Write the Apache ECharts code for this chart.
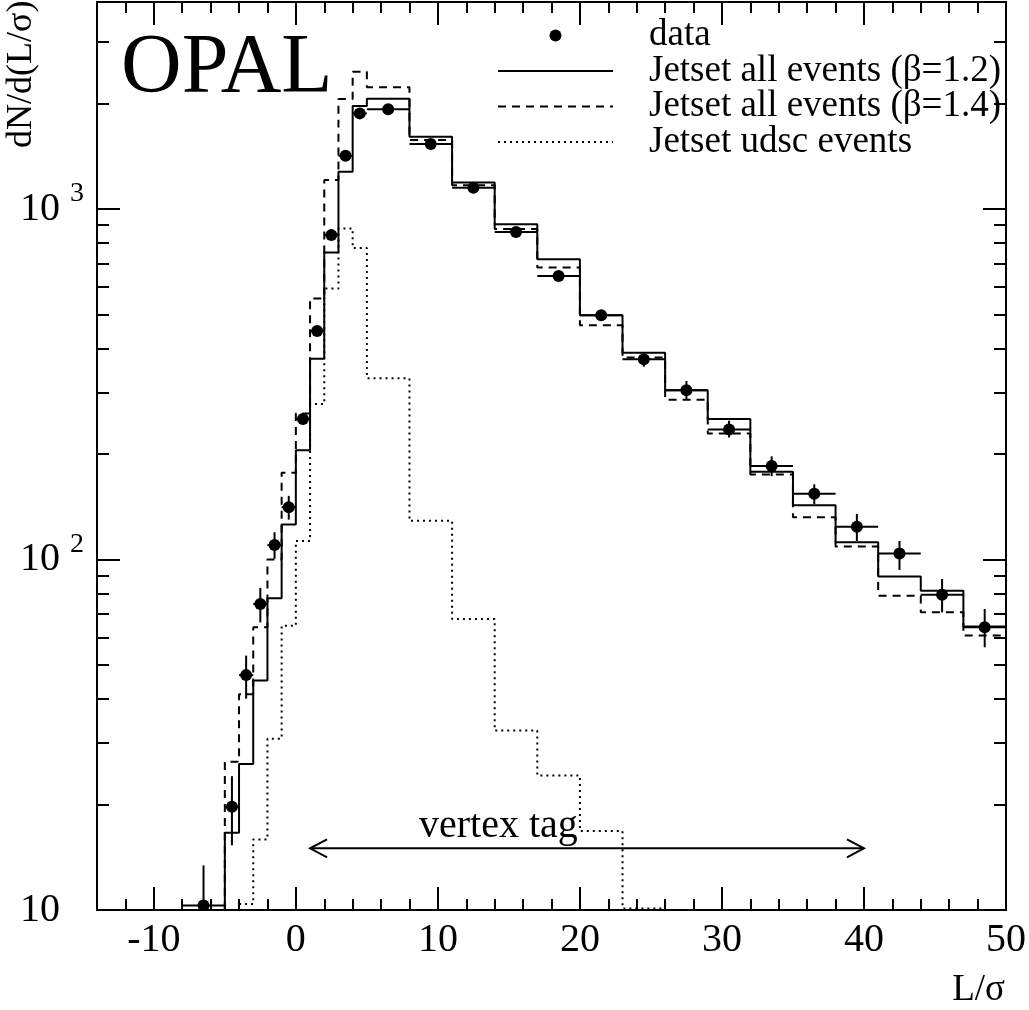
<!DOCTYPE html>
<html>
<head>
<meta charset="utf-8">
<script src="https://cdn.jsdelivr.net/npm/echarts@6.0.0/dist/echarts.min.js"></script>
<style>
html, body { margin: 0; padding: 0; background: #fff; }
#main { width: 1029px; height: 1010px; }
</style>
</head>
<body>
<div id="main"></div>
<script>
var FONT = 'Liberation Serif, Times New Roman, serif';

// histogram bin edges (L/sigma)
var histEdges = [-5, -4, -3, -2, -1, 0, 1, 2, 3, 4, 5, 8, 11, 14, 17, 20, 23, 26, 29, 32, 35, 38, 41, 44, 47, 50];
var jetset12 = [16.6, 26.1, 45.2, 77.5, 126, 205, 374, 752, 1279, 1968, 2066, 1609, 1192, 906, 720, 498, 389, 304, 252, 178, 143, 112, 89.4, 81.5, 64.4];
var jetset14 = [26.5, 41.3, 64.1, 100, 177, 261, 556, 1210, 2062, 2467, 2228, 1574, 1170, 877, 681, 466, 377, 286, 229, 175, 132, 109, 78.9, 70.7, 60.7];
var udsc = [null, 10.4, 15.9, 30.8, 64.7, 113, 278, 594, 881, 774, 329, 129, 67.7, 32.5, 24.2, 16.8, 10.1, null, null, null, null, null, null, null, null];

// data points
var dataX = [-6.5, -4.5, -3.5, -2.5, -1.5, -0.5, 0.5, 1.5, 2.5, 3.5, 4.5, 6.5, 9.5, 12.5, 15.5, 18.5, 21.5, 24.5, 27.5, 30.5, 33.5, 36.5, 39.5, 42.5, 45.5, 48.5];
var dataHalfBin = [1.5, 0.5, 0.5, 0.5, 0.5, 0.5, 0.5, 0.5, 0.5, 0.5, 0.5, 1.5, 1.5, 1.5, 1.5, 1.5, 1.5, 1.5, 1.5, 1.5, 1.5, 1.5, 1.5, 1.5, 1.5, 1.5];
var dataY = [10.3, 19.7, 46.8, 74.7, 110, 141, 252, 449, 843, 1420, 1876, 1928, 1534, 1150, 861, 644, 498, 373, 304, 235, 185, 154, 124, 104, 79.3, 64.1];
var dataLo = [7.5, 15.3, 40.1, 66.2, 100.5, 130, 243, 435, 825, 1395, 1845, 1905, 1515, 1133, 846, 631, 481, 355, 286, 223, 173, 144, 113, 93.4, 70.7, 56.2];
var dataHi = [13.4, 24.1, 53.2, 83, 119.7, 152, 262, 463, 861, 1445, 1905, 1950, 1555, 1167, 876, 657, 515, 391, 323, 249, 197, 164, 135, 113, 88, 72.3];

// vertex tag arrow
var tagRange = [1, 40];
var tagLevel = 15;

// axis ticks
var xMin = -14, xMax = 50;
var yMin = 10, yMax = 3900;
var xMajor = [-10, 0, 10, 20, 30, 40, 50];
var xMinor = [];
for (var t = xMin; t <= xMax; t += 2) {
    if (t % 10 !== 0) xMinor.push(t);
}
var yMajor = [10, 100, 1000];
var yMinor = [20, 30, 40, 50, 60, 70, 80, 90, 200, 300, 400, 500, 600, 700, 800, 900, 2000, 3000];

var chart = echarts.init(document.getElementById('main'));

function stepLine(vals) {
    var pts = [], last = -1;
    for (var i = 0; i < vals.length; i++) {
        if (vals[i] == null) continue;
        if (!pts.length) pts.push([histEdges[i], yMin]);
        pts.push([histEdges[i], vals[i]]);
        last = i;
    }
    pts.push([histEdges[last + 1], vals[last]]);
    return pts;
}

var black = { color: '#000', width: 2 };

function xAx(pos, ticks, len, line, labels) {
    return {
        type: 'value', min: xMin, max: xMax, position: pos,
        axisLine: { show: line, onZero: false, lineStyle: black },
        axisTick: { show: true, inside: true, length: len, customValues: ticks, lineStyle: black },
        axisLabel: labels ? {
            customValues: xMajor, margin: 10, color: '#000',
            fontFamily: FONT, fontSize: 40
        } : { show: false },
        splitLine: { show: false }
    };
}

function yAx(pos, ticks, len, line, labels) {
    return {
        type: 'log', logBase: 10, min: yMin, max: yMax, position: pos,
        axisLine: { show: line, onZero: false, lineStyle: black },
        axisTick: { show: true, inside: true, length: len, customValues: ticks, lineStyle: black },
        axisLabel: labels ? {
            customValues: yMajor, align: 'left', margin: 77, color: '#000',
            formatter: function (v) {
                var e = Math.round(Math.log10(v));
                return e === 1 ? '{b|10}' : '{b|10 }{e|' + e + '}';
            },
            rich: {
                b: { fontFamily: FONT, fontSize: 40, color: '#000', padding: [9, 0, 9, 0] },
                e: { fontFamily: FONT, fontSize: 28, color: '#000', verticalAlign: 'top' }
            }
        } : { show: false },
        splitLine: { show: false }
    };
}

function renderPoint(params, api) {
    var x = api.value(0), y = api.value(1), h = api.value(4);
    var c = api.coord([x, y]);
    var l = api.coord([x - h, y]);
    var r = api.coord([x + h, y]);
    var lo = api.coord([x, api.value(2)]);
    var hi = api.coord([x, api.value(3)]);
    var st = { stroke: '#000', lineWidth: 2 };
    return {
        type: 'group',
        children: [
            { type: 'line', shape: { x1: l[0], y1: c[1], x2: r[0], y2: c[1] }, style: st },
            { type: 'line', shape: { x1: c[0], y1: lo[1], x2: c[0], y2: hi[1] }, style: st },
            { type: 'circle', shape: { cx: c[0], cy: c[1], r: 6 }, style: { fill: '#000' } }
        ]
    };
}

function renderTag(params, api) {
    var a = api.coord([api.value(0), api.value(2)]);
    var b = api.coord([api.value(1), api.value(2)]);
    var st = { stroke: '#000', lineWidth: 2, fill: null };
    return {
        type: 'group',
        children: [
            { type: 'line', shape: { x1: a[0], y1: a[1], x2: b[0], y2: b[1] }, style: st },
            { type: 'polyline', shape: { points: [[a[0] + 17, a[1] - 9], a, [a[0] + 17, a[1] + 9]] }, style: st },
            { type: 'polyline', shape: { points: [[b[0] - 17, b[1] - 9], b, [b[0] - 17, b[1] + 9]] }, style: st },
            {
                type: 'text', x: a[0] + (b[0] - a[0]) * 0.34, y: a[1] - 22,
                style: { text: 'vertex tag', font: '40px ' + FONT, fill: '#000', align: 'center', verticalAlign: 'middle' }
            }
        ]
    };
}

var noDot = { opacity: 0 };

var option = {
    animation: false,
    backgroundColor: '#fff',
    textStyle: { fontFamily: FONT, color: '#000' },
    title: {
        text: 'OPAL', left: 121, top: 28, padding: 0,
        textStyle: { fontFamily: FONT, fontSize: 84, fontWeight: 'normal', color: '#000' }
    },
    legend: {
        orient: 'vertical', left: 497, top: 17, padding: 0,
        itemWidth: 115, itemHeight: 12, itemGap: -1.5, selectedMode: false,
        textStyle: { fontFamily: FONT, fontSize: 37, color: '#000', padding: [0, 0, 0, 31] },
        data: [
            { name: 'data', icon: 'circle' },
            { name: 'Jetset all events (β=1.2)', itemStyle: noDot },
            { name: 'Jetset all events (β=1.4)', itemStyle: noDot },
            { name: 'Jetset udsc events', itemStyle: noDot }
        ]
    },
    grid: { left: 97, right: 22, top: 2, bottom: 100 },
    xAxis: [
        xAx('bottom', xMajor, 23, true, true),
        xAx('bottom', xMinor, 11, false, false),
        xAx('top', xMajor, 23, true, false),
        xAx('top', xMinor, 11, false, false)
    ],
    yAxis: [
        yAx('left', yMajor, 23, true, true),
        yAx('left', yMinor, 12, false, false),
        yAx('right', yMajor, 23, true, false),
        yAx('right', yMinor, 12, false, false)
    ],
    graphic: [
        {
            type: 'text', x: 22, y: 148, rotation: Math.PI / 2,
            style: { text: 'dN/d(L/σ)', font: '36px ' + FONT, fill: '#000', align: 'left', verticalAlign: 'middle' }
        },
        {
            type: 'text', x: 1005, y: 990,
            style: { text: 'L/σ', font: '37px ' + FONT, fill: '#000', align: 'right', verticalAlign: 'middle' }
        }
    ],
    series: [
        {
            name: 'Jetset all events (β=1.2)', type: 'line', step: 'end', symbol: 'none',
            lineStyle: { color: '#000', width: 2, type: 'solid' },
            itemStyle: { color: '#000' },
            data: stepLine(jetset12)
        },
        {
            name: 'Jetset all events (β=1.4)', type: 'line', step: 'end', symbol: 'none',
            lineStyle: { color: '#000', width: 2, type: [8, 6] },
            itemStyle: { color: '#000' },
            data: stepLine(jetset14)
        },
        {
            name: 'Jetset udsc events', type: 'line', step: 'end', symbol: 'none',
            lineStyle: { color: '#000', width: 2, type: [2, 4] },
            itemStyle: { color: '#000' },
            data: stepLine(udsc)
        },
        {
            name: 'data', type: 'custom', renderItem: renderPoint, clip: true,
            itemStyle: { color: '#000' },
            encode: { x: 0, y: 1 },
            data: dataX.map(function (x, i) { return [x, dataY[i], dataLo[i], dataHi[i], dataHalfBin[i]]; }),
            z: 5
        },
        {
            type: 'custom', renderItem: renderTag, silent: true,
            encode: { x: [0, 1], y: 2 },
            data: [[tagRange[0], tagRange[1], tagLevel]]
        }
    ]
};

option && chart.setOption(option);
</script>
</body>
</html>
